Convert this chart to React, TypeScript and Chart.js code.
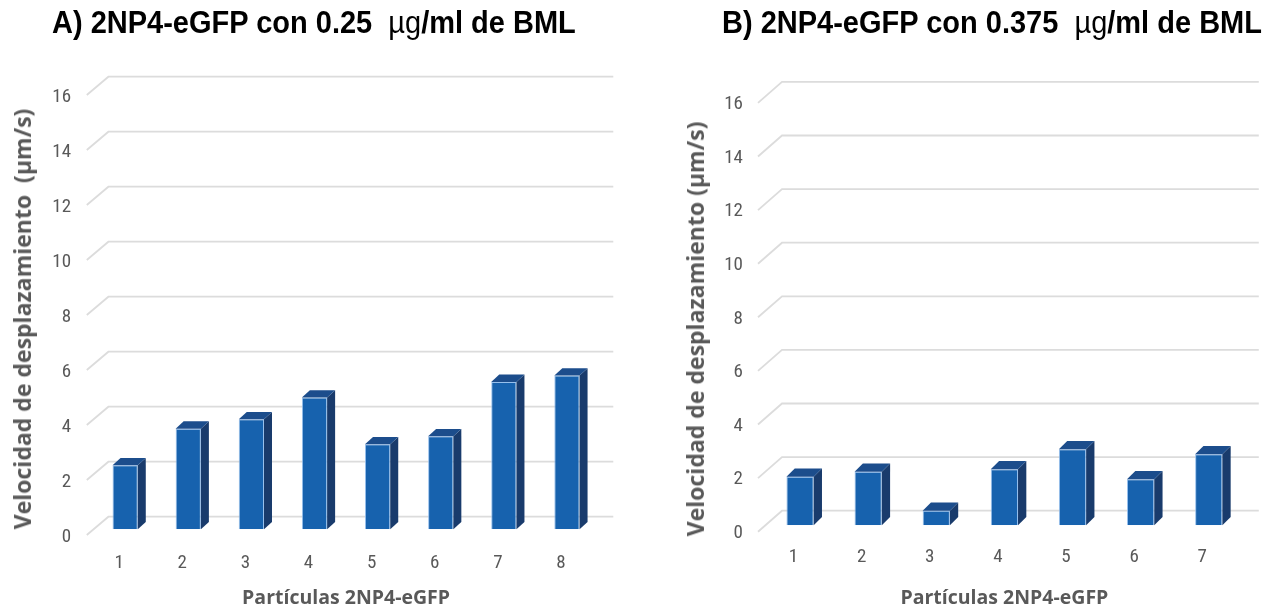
import React, { useEffect, useRef } from "react";
import { Chart, registerables } from "chart.js";

Chart.register(...registerables);

// ---------- data ----------
const categoriesA = ["1", "2", "3", "4", "5", "6", "7", "8"];
const valuesA = [2.33, 3.66, 4.0, 4.79, 3.09, 3.38, 5.36, 5.59];

const categoriesB = ["1", "2", "3", "4", "5", "6", "7"];
const valuesB = [1.81, 2.0, 0.54, 2.09, 2.84, 1.72, 2.65];

const yMin = 0;
const yMax = 16;
const yStep = 2;

const titleA = "A) 2NP4-eGFP con 0.25";
const titleB = "B) 2NP4-eGFP con 0.375";
const titleUnit = "µg";
const titleTail = "/ml de BML";
const yAxisTitle = "Velocidad de desplazamiento  (µm/s)";
const yAxisTitleB = "Velocidad de desplazamiento (µm/s)";
const xAxisTitle = "Partículas 2NP4-eGFP";

// ---------- styles ----------
const FRONT = "#1762AE";
const SIDE = "#193B6C";
const TOP = "#1C4D8C";
const EDGE = "rgba(140,185,235,0.9)";
const GRID = "#DCDCDC";
const TEXT_GRAY = "#595959";
const TICK_FONT = "'Liberation Sans Narrow', 'Roboto Condensed', Roboto, sans-serif";
const AXIS_FONT = "'Open Sans', 'DejaVu Sans', sans-serif";

type Geo = {
  left: number;
  width: number;
  yAxisWidth: number;
  padRight: number;
  padTop: number;
  xAxisHeight: number;
  backDx: number;
  backDy: number;
  frontDx: number;
  frontDy: number;
  labelDy: number;
  barDx: number;
  barDy: number;
  yTickPad: number;
  xTickPad: number;
  xLabelOffset: number;
};

function make3DPlugin(g: Geo) {
  return {
    id: "threeD",
    beforeDatasetsDraw(chart: any) {
      const { ctx, chartArea } = chart;
      const ys = chart.scales.y;
      ctx.save();
      ctx.strokeStyle = GRID;
      ctx.lineWidth = 1.8;
      ys.ticks.forEach((t: any) => {
        const py = ys.getPixelForValue(t.value);
        ctx.beginPath();
        ctx.moveTo(chartArea.left + g.frontDx, py + g.frontDy);
        ctx.lineTo(chartArea.left + g.backDx, py - g.backDy);
        ctx.lineTo(chartArea.right + g.backDx, py - g.backDy);
        ctx.stroke();
      });
      ctx.restore();
    },
    afterDatasetsDraw(chart: any) {
      const { ctx } = chart;
      const meta = chart.getDatasetMeta(0);
      ctx.save();
      meta.data.forEach((bar: any) => {
        const { x, y, base, width } = bar.getProps(["x", "y", "base", "width"], true);
        const l = x - width / 2;
        const r = x + width / 2;
        const dx = g.barDx;
        const dy = g.barDy;
        ctx.fillStyle = SIDE;
        ctx.beginPath();
        ctx.moveTo(r, y);
        ctx.lineTo(r + dx, y - dy);
        ctx.lineTo(r + dx, base - dy);
        ctx.lineTo(r, base);
        ctx.closePath();
        ctx.fill();
        ctx.fillStyle = TOP;
        ctx.beginPath();
        ctx.moveTo(l, y);
        ctx.lineTo(l + dx, y - dy);
        ctx.lineTo(r + dx, y - dy);
        ctx.lineTo(r, y);
        ctx.closePath();
        ctx.fill();
      });
      ctx.restore();
    },
  };
}

function BarChart3D({ labels, values, geo }: { labels: string[]; values: number[]; geo: Geo }) {
  const ref = useRef<HTMLCanvasElement | null>(null);
  useEffect(() => {
    if (!ref.current) return;
    const chart = new Chart(ref.current, {
      type: "bar",
      data: {
        labels,
        datasets: [
          {
            data: values,
            backgroundColor: FRONT,
            borderColor: EDGE,
            borderWidth: 1,
            barPercentage: 0.4,
            categoryPercentage: 1,
          },
        ],
      },
      options: {
        responsive: false,
        animation: false,
        layout: { padding: { left: 0, right: geo.padRight, top: geo.padTop, bottom: 0 } },
        plugins: { legend: { display: false }, tooltip: { enabled: false }, title: { display: false } },
        scales: {
          x: {
            grid: { display: false, drawTicks: false },
            border: { display: false },
            ticks: {
              color: TEXT_GRAY,
              font: { family: TICK_FONT, size: 19 },
              padding: geo.xTickPad,
              labelOffset: geo.xLabelOffset,
            },
            title: {
              display: true,
              text: xAxisTitle,
              color: TEXT_GRAY,
              font: { family: AXIS_FONT, size: 19.5, weight: "bold" },
              padding: { top: 0, bottom: 0 },
            },
            afterFit: (s: any) => {
              s.height = geo.xAxisHeight;
            },
          },
          y: {
            min: yMin,
            max: yMax,
            grid: { display: false, drawTicks: false },
            border: { display: false },
            ticks: {
              stepSize: yStep,
              color: TEXT_GRAY,
              font: { family: TICK_FONT, size: 19 },
              padding: geo.yTickPad,
              labelOffset: geo.labelDy,
            },
            afterFit: (s: any) => {
              s.width = geo.yAxisWidth;
            },
          },
        },
      },
      plugins: [make3DPlugin(geo)],
    } as any);
    return () => chart.destroy();
  }, []);
  return (
    <canvas
      ref={ref}
      width={geo.width}
      height={610}
      style={{ position: "absolute", left: geo.left, top: 0, width: geo.width, height: 610 }}
    />
  );
}

const geoA: Geo = {
  left: 0,
  width: 640,
  yAxisWidth: 93.6,
  padRight: 640 - 598.5,
  padTop: 89.3,
  xAxisHeight: 610 - 529.3,
  backDx: 14.8,
  backDy: 12.6,
  frontDx: -6.8,
  frontDy: 5.7,
  labelDy: 8,
  barDx: 8,
  barDy: 7.3,
  yTickPad: 22.5,
  xTickPad: 23,
  xLabelOffset: -6,
};

const geoB: Geo = {
  left: 640,
  width: 637,
  yAxisWidth: 766 - 640,
  padRight: 1277 - 1242.8,
  padTop: 96.5,
  xAxisHeight: 610 - 525.3,
  backDx: 16,
  backDy: 14.6,
  frontDx: -8,
  frontDy: 6.4,
  labelDy: 8,
  barDx: 8.3,
  barDy: 8.3,
  yTickPad: 23,
  xTickPad: 21,
  xLabelOffset: -6.5,
};

const titleStyle: React.CSSProperties = {
  position: "absolute",
  top: 7,
  fontFamily: "'Liberation Sans', Arial, sans-serif",
  fontWeight: "bold",
  fontSize: 29,
  lineHeight: "29px",
  color: "#000",
  whiteSpace: "pre",
  transform: "scaleY(1.1)",
  transformOrigin: "left top",
};

const yTitleStyle = (cx: number, cy: number): React.CSSProperties => ({
  position: "absolute",
  left: cx,
  top: cy,
  transform: "translate(-50%, -50%) rotate(-90deg)",
  fontFamily: AXIS_FONT,
  fontWeight: "bold",
  fontSize: 23,
  lineHeight: "26px",
  color: TEXT_GRAY,
  whiteSpace: "pre",
});

export default function App() {
  return (
    <div style={{ position: "absolute", left: 0, top: 0, width: 1277, height: 610, background: "#fff", overflow: "hidden" }}>
      <BarChart3D labels={categoriesA} values={valuesA} geo={geoA} />
      <BarChart3D labels={categoriesB} values={valuesB} geo={geoB} />
      <div style={{ ...titleStyle, left: 52 }}>
        {titleA + "  "}
        <span style={{ fontWeight: "normal" }}>{titleUnit}</span>
        {titleTail}
      </div>
      <div style={{ ...titleStyle, left: 722 }}>
        {titleB + "  "}
        <span style={{ fontWeight: "normal" }}>{titleUnit}</span>
        {titleTail}
      </div>
      <div style={yTitleStyle(22, 319)}>{yAxisTitle}</div>
      <div style={yTitleStyle(695, 329)}>{yAxisTitleB}</div>
    </div>
  );
}
